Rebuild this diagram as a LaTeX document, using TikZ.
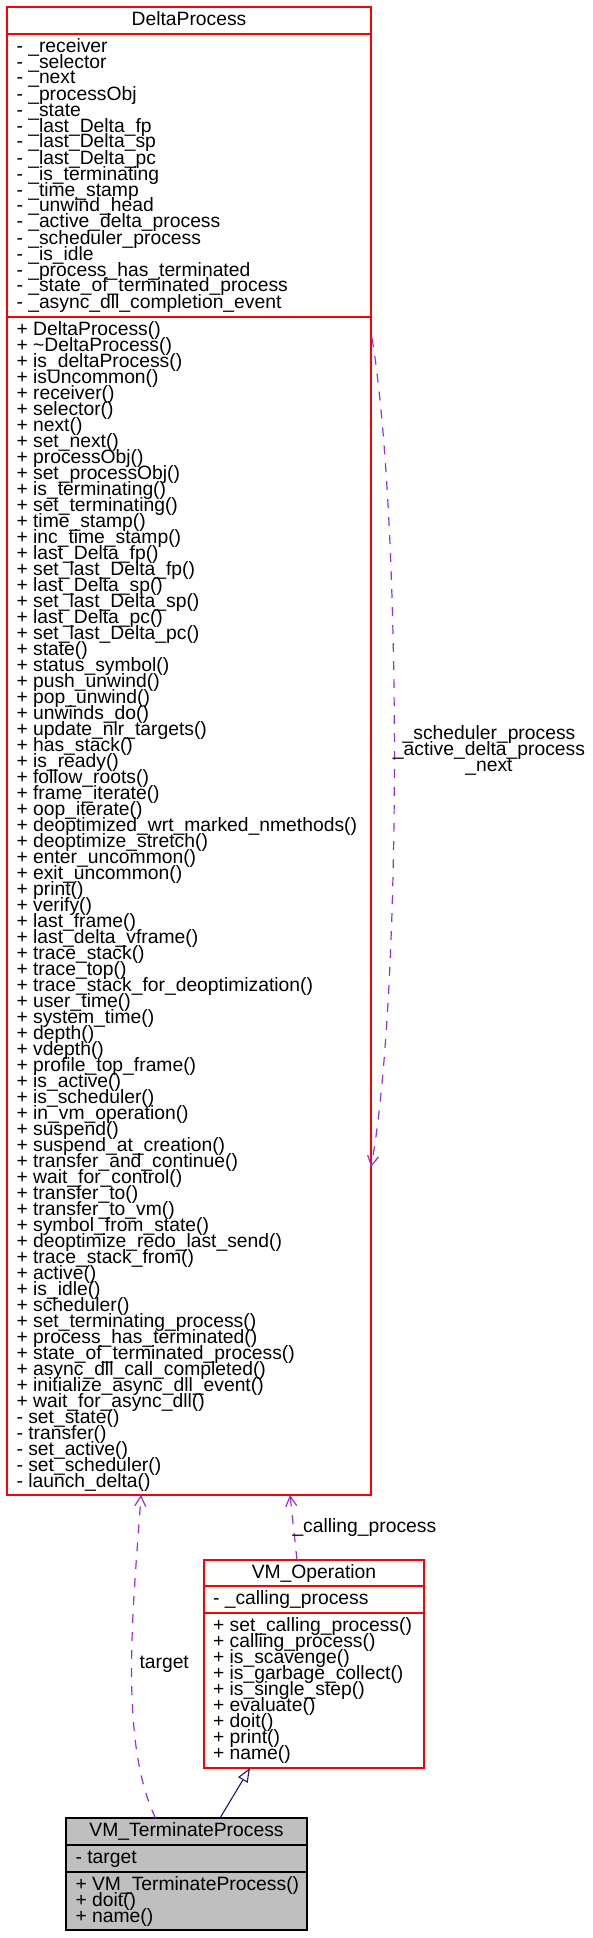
\documentclass[tikz,border=0pt]{standalone}
\usepackage{fontspec}
\setmainfont{Liberation Sans}
\usetikzlibrary{arrows.meta,calc}
\definecolor{umlred}{HTML}{FF0000}
\definecolor{usagecol}{HTML}{9A32CD}
\definecolor{navycol}{HTML}{191970}
\definecolor{grayfill}{HTML}{BFBFBF}
\newcommand\umlL[1]{\vtop{\lineskiplimit=-\maxdimen\lineskip=0pt\baselineskip=16pt\halign{##\hfil\cr#1\crcr}}}
\newcommand\umlC[1]{\vtop{\lineskiplimit=-\maxdimen\lineskip=0pt\baselineskip=16pt\halign{\hfil##\hfil\cr#1\crcr}}}
\begin{document}
\begin{tikzpicture}[x=1pt,y=-1pt,font=\fontsize{19.3}{16}\selectfont,
  umlbox/.style={draw=umlred, line width=1.1pt, inner sep=0pt, outer sep=0pt, anchor=north west},
  sep/.style={draw=umlred, line width=1.1pt},
  txt/.style={inner sep=0pt, outer sep=0pt, anchor=base west},
  ttl/.style={inner sep=0pt, outer sep=0pt, anchor=base},
  usage/.style={draw=usagecol, line width=1.2pt, dash pattern=on 9pt off 9pt, -{Straight Barb[length=10pt,width=11pt]}},
  inherit/.style={draw=navycol, line width=1.1pt, -{Triangle[open,length=14pt,width=11pt,fill=white]}}]
\useasboundingbox (0,0) rectangle (592,1938);
\fill[white] (0,0) rectangle (592,1938);

% DeltaProcess
\node[umlbox, minimum width=364pt, minimum height=1488pt] (dp) at (7,7) {};
\draw[sep] ($(dp.north west)+(0,27)$) -- ($(dp.north east)+(0,27)$);
\draw[sep] ($(dp.north west)+(0,310)$) -- ($(dp.north east)+(0,310)$);
\node[ttl] (dpt) at (189,25) {DeltaProcess};
\node[txt] (dpa) at (16.5,52) {\umlL{- \_receiver\cr
- \_selector\cr
- \_next\cr
- \_processObj\cr
- \_state\cr
- \_last\_Delta\_fp\cr
- \_last\_Delta\_sp\cr
- \_last\_Delta\_pc\cr
- \_is\_terminating\cr
- \_time\_stamp\cr
- \_unwind\_head\cr
- \_active\_delta\_process\cr
- \_scheduler\_process\cr
- \_is\_idle\cr
- \_process\_has\_terminated\cr
- \_state\_of\_terminated\_process\cr
- \_async\_dll\_completion\_event}};
\node[txt] (dpm) at (16.5,335) {\umlL{+ DeltaProcess()\cr
+ \textasciitilde DeltaProcess()\cr
+ is\_deltaProcess()\cr
+ isUncommon()\cr
+ receiver()\cr
+ selector()\cr
+ next()\cr
+ set\_next()\cr
+ processObj()\cr
+ set\_processObj()\cr
+ is\_terminating()\cr
+ set\_terminating()\cr
+ time\_stamp()\cr
+ inc\_time\_stamp()\cr
+ last\_Delta\_fp()\cr
+ set\_last\_Delta\_fp()\cr
+ last\_Delta\_sp()\cr
+ set\_last\_Delta\_sp()\cr
+ last\_Delta\_pc()\cr
+ set\_last\_Delta\_pc()\cr
+ state()\cr
+ status\_symbol()\cr
+ push\_unwind()\cr
+ pop\_unwind()\cr
+ unwinds\_do()\cr
+ update\_nlr\_targets()\cr
+ has\_stack()\cr
+ is\_ready()\cr
+ follow\_roots()\cr
+ frame\_iterate()\cr
+ oop\_iterate()\cr
+ deoptimized\_wrt\_marked\_nmethods()\cr
+ deoptimize\_stretch()\cr
+ enter\_uncommon()\cr
+ exit\_uncommon()\cr
+ print()\cr
+ verify()\cr
+ last\_frame()\cr
+ last\_delta\_vframe()\cr
+ trace\_stack()\cr
+ trace\_top()\cr
+ trace\_stack\_for\_deoptimization()\cr
+ user\_time()\cr
+ system\_time()\cr
+ depth()\cr
+ vdepth()\cr
+ profile\_top\_frame()\cr
+ is\_active()\cr
+ is\_scheduler()\cr
+ in\_vm\_operation()\cr
+ suspend()\cr
+ suspend\_at\_creation()\cr
+ transfer\_and\_continue()\cr
+ wait\_for\_control()\cr
+ transfer\_to()\cr
+ transfer\_to\_vm()\cr
+ symbol\_from\_state()\cr
+ deoptimize\_redo\_last\_send()\cr
+ trace\_stack\_from()\cr
+ active()\cr
+ is\_idle()\cr
+ scheduler()\cr
+ set\_terminating\_process()\cr
+ process\_has\_terminated()\cr
+ state\_of\_terminated\_process()\cr
+ async\_dll\_call\_completed()\cr
+ initialize\_async\_dll\_event()\cr
+ wait\_for\_async\_dll()\cr
- set\_state()\cr
- transfer()\cr
- set\_active()\cr
- set\_scheduler()\cr
- launch\_delta()}};

% VM_Operation
\node[umlbox, minimum width=220pt, minimum height=208pt] (vmo) at (204,1560) {};
\draw[sep] ($(vmo.north west)+(0,26)$) -- ($(vmo.north east)+(0,26)$);
\draw[sep] ($(vmo.north west)+(0,53)$) -- ($(vmo.north east)+(0,53)$);
\node[ttl] (vmot) at (314,1578) {VM\_Operation};
\node[txt] (vmoa) at (213,1604) {\umlL{- \_calling\_process}};
\node[txt] (vmom) at (213,1631) {\umlL{+ set\_calling\_process()\cr
+ calling\_process()\cr
+ is\_scavenge()\cr
+ is\_garbage\_collect()\cr
+ is\_single\_step()\cr
+ evaluate()\cr
+ doit()\cr
+ print()\cr
+ name()}};

% VM_TerminateProcess
\node[umlbox, draw=black, fill=grayfill, minimum width=241pt, minimum height=112pt] (vmt) at (66,1818) {};
\draw[line width=1.1pt] ($(vmt.north west)+(0,27)$) -- ($(vmt.north east)+(0,27)$);
\draw[line width=1.1pt] ($(vmt.north west)+(0,54)$) -- ($(vmt.north east)+(0,54)$);
\node[ttl] (vmtt) at (186.5,1836) {VM\_TerminateProcess};
\node[txt] (vmta) at (75.5,1863) {\umlL{- target}};
\node[txt] (vmtm) at (75.5,1890) {\umlL{+ VM\_TerminateProcess()\cr
+ doit()\cr
+ name()}};

% connector end points
\coordinate (tS) at ($(vmt.north west)+(89.5,0)$);
\coordinate (tE) at ($(dp.south west)+(134,0)$);
\coordinate (cS) at ($(vmo.north west)+(93,0)$);
\coordinate (cE) at ($(dp.south west)+(283,0)$);
\coordinate (iS) at ($(vmt.north west)+(154,0)$);
\coordinate (iE) at ($(vmo.south west)+(46,0)$);
\coordinate (lS) at ($(dp.north east)+(1,331)$);
\coordinate (lE) at ($(dp.north east)+(0,1160)$);

% connectors
\draw[usage] (tS) .. controls (118,1740) and (134,1600) .. (tE);
\draw[usage] (cS) -- (cE);
\draw[inherit] (iS) -- (iE);
\draw[usage] (lS) .. controls (402,520) and (402,1000) .. (lE);

% labels
\node[txt] (lbt) at (139.5,1668) {target};
\node[txt] (lbc) at (292.5,1532) {\_calling\_process};
\node[ttl] (lbl) at (489,739) {\umlC{\_scheduler\_process\cr
\_active\_delta\_process\cr
\_next}};
\end{tikzpicture}
\end{document}
